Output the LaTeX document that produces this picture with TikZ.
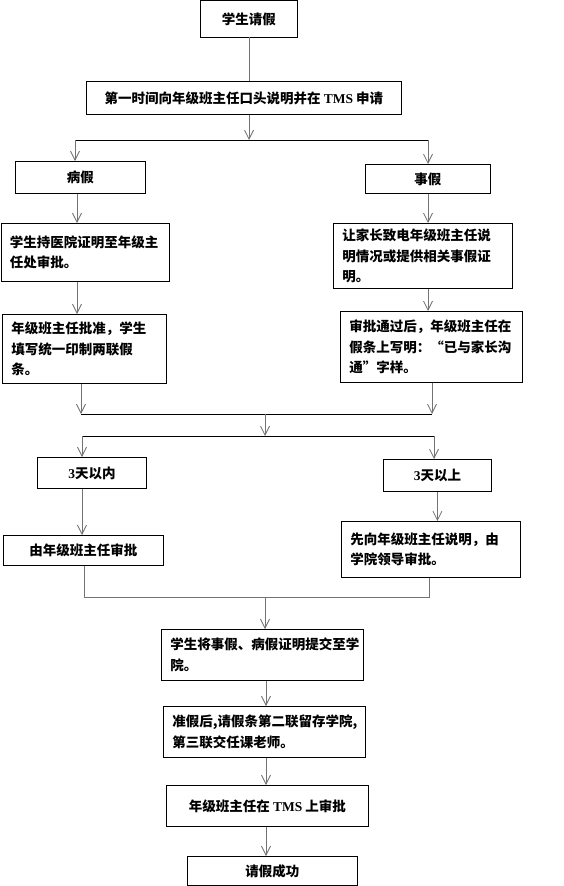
\documentclass[tikz,border=0pt]{standalone}
\usepackage{fontspec}
\setmainfont{Liberation Serif}
\newfontfamily\cjk{Noto Sans CJK SC}
\usetikzlibrary{arrows.meta}

\begin{document}
\begin{tikzpicture}[x=1pt, y=-1pt,
                        box/.style={
                            draw,
                            line width=0.8pt,
                            anchor=north west,
                            inner sep=0pt,
                            align=center,
                            font=\cjk\bfseries\fontsize{13.5}{20.5}\selectfont
                        },
                        textbox/.style={
                            box,
                            align=left,
                            inner xsep=9pt
                        },
                        link/.style={
                            draw=black!55,
                            line width=0.8pt
                        },
                        arrow/.style={
                            link,
                            -{Straight Barb[length=9pt, width=9pt]}
                        },
                        bus/.style={
                            draw=black,
                            line width=0.8pt
                        }
                    ]

                    \useasboundingbox (0,0) rectangle (564,886);

                    % Start
                    \node[box, minimum width=97pt, minimum height=36pt]
                        (ask) at (200,0.5) {学生请假};

                    % Report to the tutor and apply in TMS
                    \node[box, minimum width=315pt, minimum height=33pt]
                        (tms) at (86,81) {第一时间向年级班主任口头说明并在 {\rmfamily TMS} 申请};

                    % Two kinds of leave
                    \node[box, minimum width=130pt, minimum height=32pt]
                        (sick) at (15,161) {病假};
                    \node[box, minimum width=125pt, minimum height=29pt]
                        (pers) at (365,164) {事假};

                    % Left branch (sick leave)
                    \node[textbox, text width=150pt, minimum height=58pt]
                        (hosp) at (0.5,223) {学生持医院证明至年级主\\任处审批。};
                    \node[textbox, text width=146pt, minimum height=69pt]
                        (slip) at (2,314) {年级班主任批准，学生\\填写统一印制两联假\\条。};

                    % Right branch (personal leave)
                    \node[textbox, text width=161pt, minimum height=65pt]
                        (parent) at (333,223) {让家长致电年级班主任说\\明情况或提供相关事假证\\明。};
                    \node[textbox, text width=164pt, minimum height=71pt]
                        (note) at (340,311) {审批通过后，年级班主任在\\假条上写明：“已与家长沟\\通”字样。};

                    % Length of leave
                    \node[box, minimum width=109pt, minimum height=31pt]
                        (short) at (37,457) {{\rmfamily 3}天以内};
                    \node[box, minimum width=108pt, minimum height=32pt]
                        (long) at (383,459) {{\rmfamily 3}天以上};
                    \node[box, minimum width=160pt, minimum height=30pt]
                        (tutor) at (3,535) {由年级班主任审批};
                    \node[textbox, text width=161pt, minimum height=56pt]
                        (dean) at (341,521) {先向年级班主任说明，由\\学院领导审批。};

                    % Common steps
                    \node[textbox, text width=184pt, minimum height=51pt]
                        (submit) at (161,629) {学生将事假、病假证明提交至学\\院。};
                    \node[textbox, text width=184pt, minimum height=51pt]
                        (approve) at (163,706) {准假后,请假条第二联留存学院,\\第三联交任课老师。};
                    \node[box, minimum width=202pt, minimum height=41pt]
                        (check) at (166,785) {年级班主任在 {\rmfamily TMS} 上审批};
                    \node[box, minimum width=170pt, minimum height=29pt]
                        (done) at (187,856) {请假成功};

                    % Branch points
                    \coordinate (forkA) at (249,140);
                    \coordinate (forkAl) at (75,140);
                    \coordinate (forkAr) at (428,140);
                    \coordinate (colL) at (77,0);
                    \coordinate (colR) at (428,0);
                    \coordinate (forkB) at (265,414);
                    \coordinate (forkBl) at (81,414);
                    \coordinate (forkBr) at (432,414);
                    \coordinate (forkC) at (265,436);
                    \coordinate (forkCl) at (82,436);
                    \coordinate (forkCr) at (434,436);
                    \coordinate (forkD) at (265,597);
                    \coordinate (forkDl) at (84,597);
                    \coordinate (forkDr) at (429,597);
                    \coordinate (colC) at (266,0);

                    % Connectors, top part
                    \draw[link] (ask.south -| forkA) -- (tms.north -| forkA);
                    \draw[arrow] (tms.south -| forkA) -- (forkA);
                    \draw[bus] (forkAl) -- (forkAr);
                    \draw[arrow] (forkAl) -- (forkAl |- sick.north);
                    \draw[arrow] (forkAr) -- (forkAr |- pers.north);
                    \draw[arrow] (sick.south -| colL) -- (hosp.north -| colL);
                    \draw[arrow] (hosp.south -| colL) -- (slip.north -| colL);
                    \draw[arrow] (pers.south -| colR) -- (parent.north -| colR);
                    \draw[arrow] (parent.south -| colR) -- (note.north -| colR);

                    % Connectors, middle part
                    \draw[arrow] (slip.south -| forkBl) -- (forkBl);
                    \draw[arrow] (note.south -| forkBr) -- (forkBr);
                    \draw[bus] (forkBl) -- (forkBr);
                    \draw[arrow] (forkB) -- (forkC);
                    \draw[bus] (forkCl) -- (forkCr);
                    \draw[arrow] (forkCl) -- (forkCl |- short.north);
                    \draw[arrow] (forkCr) -- (forkCr |- long.north);
                    \draw[arrow] (short.south -| forkCl) -- (tutor.north -| forkCl);
                    \draw[arrow] (long.south) -- (long.south |- dean.north);
                    \draw[link] (tutor.south -| forkDl) -- (forkDl) -- (forkDr) -- (dean.south -| forkDr);

                    % Connectors, bottom part
                    \draw[arrow] (forkD) -- (forkD |- submit.north);
                    \draw[arrow] (submit.south -| colC) -- (approve.north -| colC);
                    \draw[arrow] (approve.south -| colC) -- (check.north -| colC);
                    \draw[arrow] (check.south -| colC) -- (done.north -| colC);
                    \end{tikzpicture}
\end{document}
